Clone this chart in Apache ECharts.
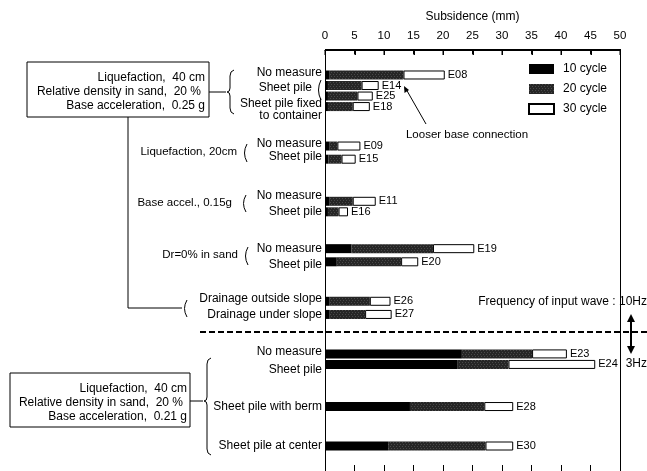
<!DOCTYPE html>
<html>
<head>
<meta charset="utf-8">
<script src="https://cdn.jsdelivr.net/npm/echarts@6/dist/echarts.min.js"></script>
<style>html,body{margin:0;padding:0;background:#fff}#c{width:647px;height:471px}</style>
</head>
<body>
<div id="c"></div>
<script>
// ---- data ----
const runIds   = ['E08','E14','E25','E18','E09','E15','E11','E16','E19','E20','E26','E27','E23','E24','E28','E30'];
const barSlots = [9,13,17,21,36,41,57,61,75,80,95,100,115,119,135,150];
// cumulative subsidence (mm) after 10, 20, 30 cycles
const after10 = [0.8,0.5,0.5,0.5,0.8,0.6,0.8,0.5,4.5,2.0,0.8,0.8,23.2,22.5,14.4,10.7];
const after20 = [13.3,6.2,5.5,4.7,2.1,2.8,4.7,2.3,18.3,12.9,7.6,6.8,35.1,31.1,27.0,27.2];
const after30 = [20.3,9.1,8.1,7.6,6.0,5.2,8.6,3.9,25.3,15.8,11.1,11.3,41.0,45.8,31.9,31.9];
const caseLabels = ['No measure','Sheet pile','Sheet pile fixed\nto container','No measure','Sheet pile',
  'No measure','Sheet pile','No measure','Sheet pile','Drainage outside slope','Drainage under slope',
  'No measure','Sheet pile','Sheet pile with berm','Sheet pile at center'];
const labelSlots = [8,14,22,35,40,55,61,75,81,94,100,114,121,135,150];
const seriesNames = ['10 cycle','20 cycle','30 cycle'];
const xTicks = [0,5,10,15,20,25,30,35,40,45,50];
const SLOTS = 160;

// ---- build ----
const cats = new Array(SLOTS).fill('');
labelSlots.forEach((s,i)=>{cats[s]=caseLabels[i];});
const d10 = new Array(SLOTS).fill(null), d20 = new Array(SLOTS).fill(null), d30 = new Array(SLOTS).fill(null);
const idBySlot = {};
barSlots.forEach((s,i)=>{
  d10[s]=after10[i]; d20[s]=+(after20[i]-after10[i]).toFixed(2); d30[s]=+(after30[i]-after20[i]).toFixed(2);
  idBySlot[s]=runIds[i];
});
const FONT = 'Liberation Sans, Arial, sans-serif';
const GRID_TOP = 50;
const chart = echarts.init(document.getElementById('c'));

const STK = {stroke:'#000',fill:null,lineWidth:1};
function txt(x,y,t,align,size){return {type:'text',x:x,y:y,style:{text:t,fill:'#000',font:(size||12)+'px '+FONT,align:align||'right',verticalAlign:'middle'}};}
function curve(x1,y1,cx,cy,x2,y2){return {type:'bezierCurve',shape:{x1,y1,x2,y2,cpx1:cx,cpy1:cy},style:STK};}
function bracket(x,y0,y1){return curve(x+4,y0,x-1,(y0+y1)/2,x+4,y1);}
function line(x1,y1,x2,y2,w,dash){return {type:'line',z:50,shape:{x1:x1,y1:y1,x2:x2,y2:y2},style:{stroke:'#000',lineWidth:w||1,lineDash:dash||null}};}
function brace(x,y0,y1,ym){return {type:'group',children:[
  curve(x+4,y0,x,y0+1,x,y0+6), line(x,y0+6,x,ym-4), curve(x,ym-4,x,ym,x-3,ym),
  curve(x-3,ym,x,ym,x,ym+4), line(x,ym+4,x,y1-6), curve(x,y1-6,x,y1-1,x+4,y1)]};}

const graphics = [
  {type:'rect',shape:{x:27,y:62,width:182,height:55},style:{fill:null,stroke:'#000',lineWidth:1}},
  txt(205,78,'Liquefaction,  40 cm'), txt(201,92,'Relative density in sand,  20 %'), txt(205,106,'Base acceleration,  0.25 g'),
  line(209,92,226,92), brace(230,70,114,92),
  bracket(317,80,100),
  line(128,117,128,308), line(128,308,182,308),
  txt(237,152,'Liquefaction, 20cm','right',11.5), bracket(243,144,162),
  txt(232,203,'Base accel., 0.15g','right',11.5), bracket(242,195,212),
  txt(238,255,'Dr=0% in sand','right',11.5), bracket(244,247,265),
  bracket(183,300,317),
  {type:'rect',shape:{x:10,y:373,width:180,height:54},style:{fill:null,stroke:'#000',lineWidth:1}},
  txt(187,389,'Liquefaction,  40 cm'), txt(183,403,'Relative density in sand,  20 %'), txt(187,417,'Base acceleration,  0.21 g'),
  line(190,401,203,401), brace(207,358,455,401),
  line(200,332,647,332,2,[6,3]),
  txt(467,135,'Looser base connection','center',11.5),
  line(426,124,406,89),
  {type:'polygon',shape:{points:[[404,86],[404.5,93],[409,90]]},style:{fill:'#000'}},
  txt(647,302,'Frequency of input wave : 10Hz'),
  line(631,320,631,348,2),
  {type:'polygon',shape:{points:[[627,322],[635,322],[631,314]]},style:{fill:'#000'}},
  {type:'polygon',shape:{points:[[627,346],[635,346],[631,354]]},style:{fill:'#000'}},
  txt(647,364,'3Hz')
];

function xAxisOf(extra){
  return Object.assign({type:'value',min:xTicks[0],max:xTicks[xTicks.length-1],interval:5,
    axisLine:{show:true,onZero:false,lineStyle:{color:'#000',width:1}},
    axisTick:{show:true,inside:true,length:4,lineStyle:{color:'#000',width:1}},
    splitLine:{show:false}},extra);
}
const option = {
  animation:false,
  textStyle:{fontFamily:FONT},
  grid:{left:325,right:27,top:GRID_TOP,bottom:0},
  legend:{orient:'vertical',left:523,top:58,itemWidth:25,itemHeight:10,itemGap:8,icon:'rect',
    textStyle:{fontSize:12,color:'#000',padding:[0,0,0,4],fontFamily:FONT},data:seriesNames},
  xAxis:[
    xAxisOf({position:'top',name:'Subsidence (mm)',nameLocation:'middle',nameGap:27,nameTextStyle:{fontSize:12,color:'#000'},
      axisLabel:{fontSize:11.5,color:'#000',margin:8}}),
    xAxisOf({position:'bottom',axisTick:{show:true,inside:true,length:6,lineStyle:{color:'#000'}},axisLabel:{show:false}})
  ],
  yAxis:[
    {type:'category',inverse:true,data:cats,position:'left',
    axisLine:{show:true,onZero:false,lineStyle:{color:'#000'}},axisTick:{show:false},
    axisLabel:{interval:0,margin:3,fontSize:12,color:'#000',lineHeight:12,
      formatter:(v,i)=> (i===14 ? v+'   ' : v)}},
    {type:'category',inverse:true,data:cats,position:'right',
    axisLine:{show:true,onZero:false,lineStyle:{color:'#000'}},axisTick:{show:false},axisLabel:{show:false}}
  ],
  series:[
    {name:seriesNames[0],type:'bar',stack:'s',barWidth:9,itemStyle:{color:'#000'},data:d10},
    {name:seriesNames[1],type:'bar',stack:'s',barWidth:9,
     itemStyle:{color:'#262626',decal:{symbol:'rect',symbolSize:0.6,color:'rgba(255,255,255,0.55)',dashArrayX:[[1,2],[0,1,1,1]],dashArrayY:[1,1],rotation:0}},data:d20},
    {name:seriesNames[2],type:'bar',stack:'s',barWidth:9,itemStyle:{color:'#fff',borderColor:'#000',borderWidth:1},
     label:{show:true,position:'right',distance:3,fontSize:11,color:'#000',formatter:(p)=>idBySlot[p.dataIndex]||''},data:d30}
  ]
};
chart.setOption(option);
// top frame line and inside ticks placed through the x axis scale
let px0 = chart.convertToPixel({xAxisIndex:0}, xTicks[0]);
let px1 = chart.convertToPixel({xAxisIndex:0}, xTicks[xTicks.length-1]);
if (!isFinite(px0) || !isFinite(px1)) { px0 = 325; px1 = 620; }
const frame = [
  {type:'rect',z:50,shape:{x:px0,y:GRID_TOP-1,width:px1-px0+1,height:2},style:{fill:'#000'}}
];
xTicks.forEach(v=>{
  let px = chart.convertToPixel({xAxisIndex:0}, v);
  if (!isFinite(px)) px = px0 + (px1-px0)*(v-xTicks[0])/(xTicks[xTicks.length-1]-xTicks[0]);
  frame.push({type:'rect',z:50,shape:{x:Math.round(px)-0.5,y:GRID_TOP,width:1.5,height:5},style:{fill:'#000'}});
});
chart.setOption({graphic: graphics.concat(frame)});
</script>
</body>
</html>
